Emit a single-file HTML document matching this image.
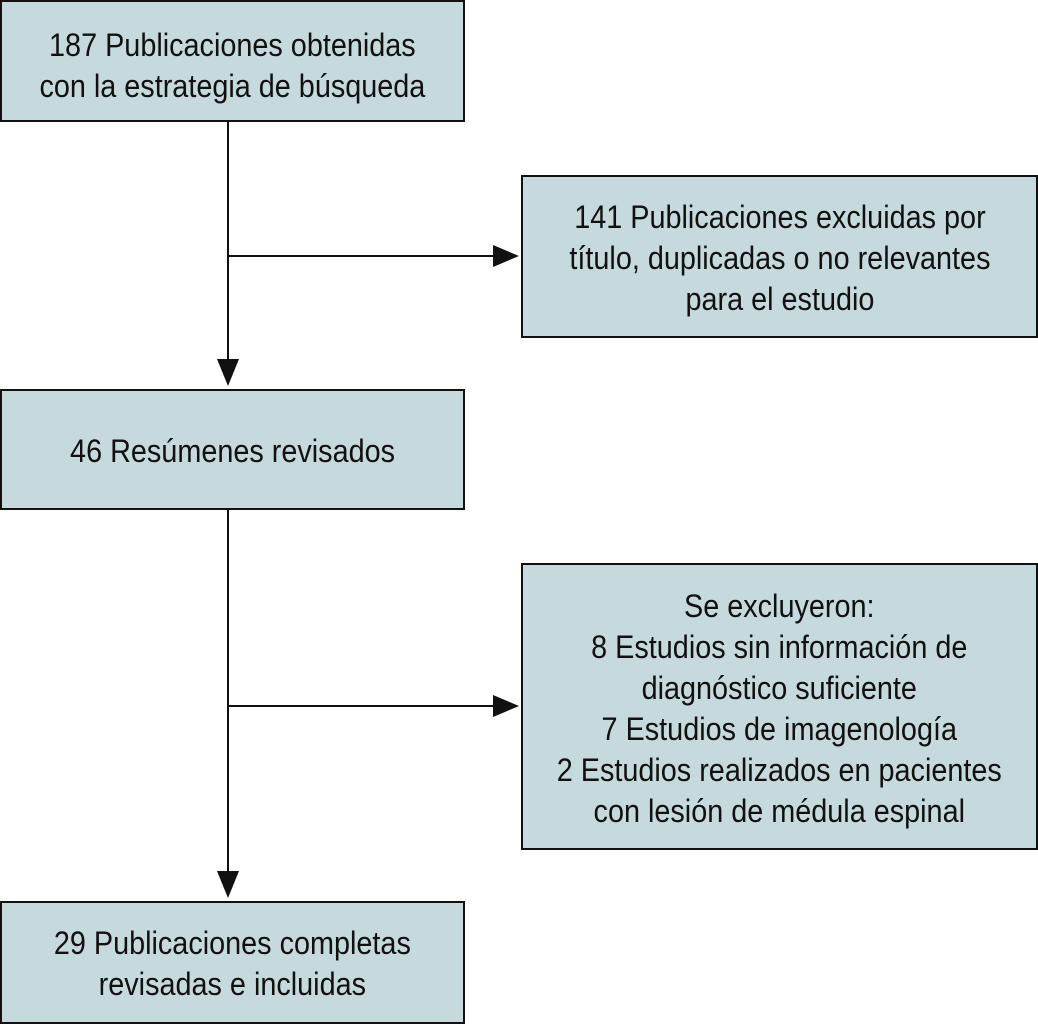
<!DOCTYPE html>
<html><head><meta charset="utf-8"><style>
html,body{margin:0;padding:0;background:#fff;}
body{width:1038px;height:1024px;position:relative;overflow:hidden;font-family:"Liberation Sans",Arial,sans-serif;}
.b{position:absolute;box-sizing:border-box;border:2.5px solid #111;background:#c6dadd;display:flex;align-items:center;justify-content:center;text-align:center;}
.t{font-size:32px;line-height:41px;color:#111;white-space:nowrap;transform:scaleX(0.9);}
svg{position:absolute;left:0;top:0;}
</style></head><body>
<div class="b" style="left:0;top:0;width:465px;height:122px;padding-top:10px"><div class="t">187 Publicaciones obtenidas<br>con la estrategia de búsqueda</div></div>
<div class="b" style="left:521px;top:175px;width:517px;height:163px;padding-top:3px"><div class="t">141 Publicaciones excluidas por<br>título, duplicadas o no relevantes<br>para el estudio</div></div>
<div class="b" style="left:0;top:389px;width:465px;height:121px;padding-top:3px"><div class="t">46 Resúmenes revisados</div></div>
<div class="b" style="left:521px;top:563px;width:517px;height:287px;padding-top:4px"><div class="t">Se excluyeron:<br>8 Estudios sin información de<br>diagnóstico suficiente<br>7 Estudios de imagenología<br>2 Estudios realizados en pacientes<br>con lesión de médula espinal</div></div>
<div class="b" style="left:0;top:901px;width:465px;height:123px;padding-top:2px"><div class="t">29 Publicaciones completas<br>revisadas e incluidas</div></div>
<svg width="1038" height="1024">
<g stroke="#111" stroke-width="2" fill="none">
<line x1="228" y1="122" x2="228" y2="362"/>
<line x1="228" y1="256" x2="495" y2="256"/>
<line x1="228" y1="510" x2="228" y2="874"/>
<line x1="228" y1="706" x2="495" y2="706"/>
</g>
<g fill="#111">
<polygon points="493,245 519,256 493,267"/>
<polygon points="493,695 519,706 493,717"/>
<polygon points="217,359 228,386 239,359"/>
<polygon points="217,871 228,898 239,871"/>
</g>
</svg>
</body></html>
